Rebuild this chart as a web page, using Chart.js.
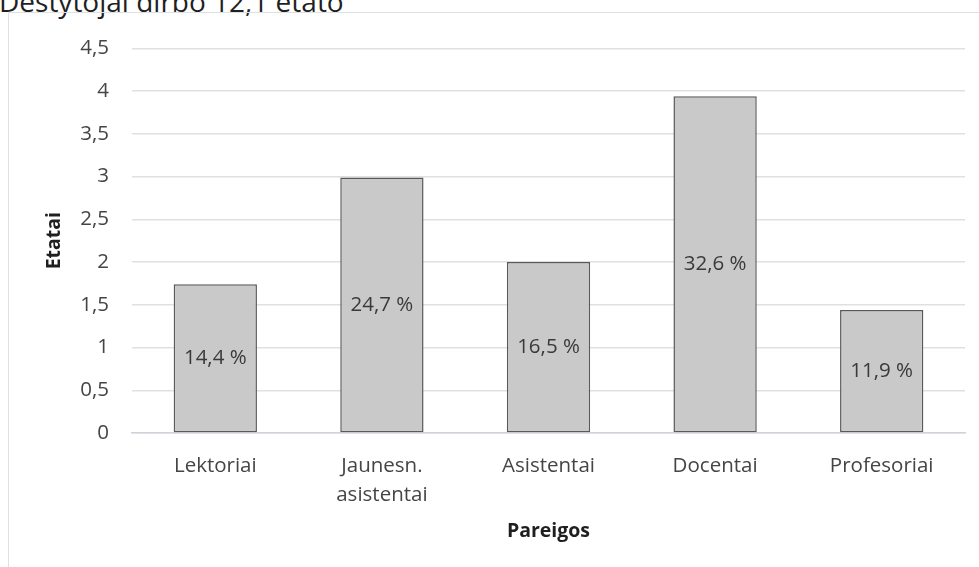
<!DOCTYPE html>
<html>
<head>
<meta charset="utf-8">
<script src="https://cdn.jsdelivr.net/npm/chart.js@4"></script>
<style>
  html, body { margin: 0; padding: 0; background: #fff; overflow: hidden; }
  body { width: 979px; height: 567px; position: relative; font-family: 'Open Sans', sans-serif; }
  #title { position: absolute; left: -1px; top: -18px; font-size: 28px; color: #1f1f1f; white-space: nowrap; }
  #frame { position: absolute; left: 8px; top: 12px; width: 1000px; height: 600px; border: 1px solid #dde1e6; }
  #wrap { position: absolute; left: 0; top: 0; width: 971px; height: 555px; }
</style>
</head>
<body>
<div id="title">Dėstytojai dirbo 12,1 etato</div>
<div id="frame">
  <div id="wrap"><canvas id="chart"></canvas></div>
</div>
<script>
// Etatai pagal pareigas
const categories = [['Lektoriai'], ['Jaunesn.', 'asistentai'], ['Asistentai'], ['Docentai'], ['Profesoriai']];
const etatai = [1.74, 2.99, 2.0, 3.94, 1.44];
const shares = ['14,4 %', '24,7 %', '16,5 %', '32,6 %', '11,9 %'];

const textColor = '#454545';
const gridColor = '#dde1e6';

// percentage labels in the middle of each bar
const barLabels = {
    id: 'barLabels',
    afterDatasetsDraw(chart) {
        const c = chart.ctx;
        const meta = chart.getDatasetMeta(0);
        c.save();
        c.font = '20.5px "Open Sans"';
        c.fillStyle = '#3a3a3a';
        c.textAlign = 'center';
        c.textBaseline = 'middle';
        meta.data.forEach((bar, i) => {
            c.fillText(shares[i], bar.x, (bar.y + bar.base) / 2);
        });
        c.restore();
    }
};

const ctx = document.getElementById('chart').getContext('2d');

new Chart(ctx, {
    type: 'bar',
    data: {
        labels: categories,
        datasets: [{
            data: etatai,
            backgroundColor: '#c9c9c9',
            borderColor: '#595959',
            borderWidth: 1.5,
            borderSkipped: false,
            barPercentage: 0.5,
            categoryPercentage: 1
        }]
    },
    options: {
        responsive: true,
        maintainAspectRatio: false,
        animation: false,
        layout: { padding: { left: 0, right: 15, top: 27, bottom: 0 } },
        plugins: {
            legend: { display: false },
            tooltip: { enabled: false }
        },
        scales: {
            y: {
                min: 0,
                max: 4.5,
                afterFit: (s) => { s.width = 123; },
                ticks: {
                    stepSize: 0.5,
                    padding: 23,
                    color: textColor,
                    font: { family: 'Open Sans', size: 20.5 },
                    callback: (v) => String(v).replace('.', ',')
                },
                grid: { color: gridColor, lineWidth: 1.5, drawTicks: false },
                border: { display: false },
                title: {
                    display: true,
                    text: 'Etatai',
                    color: '#1f1f1f',
                    font: { family: 'Open Sans', size: 19.5, weight: 'bold' },
                    padding: { top: 34, bottom: 0 }
                }
            },
            x: {
                afterFit: (s) => { s.height = 135; },
                ticks: {
                    padding: 19,
                    color: textColor,
                    font: { family: 'Open Sans', size: 20.5, lineHeight: 1.4 }
                },
                grid: { display: false, drawTicks: false },
                border: { color: '#d0d4d9', width: 1.5 },
                title: {
                    display: true,
                    text: 'Pareigos',
                    color: '#1f1f1f',
                    font: { family: 'Open Sans', size: 19.5, weight: 'bold' },
                    padding: { top: 0, bottom: 25 }
                }
            }
        }
    },
    plugins: [barLabels]
});
</script>
</body>
</html>
